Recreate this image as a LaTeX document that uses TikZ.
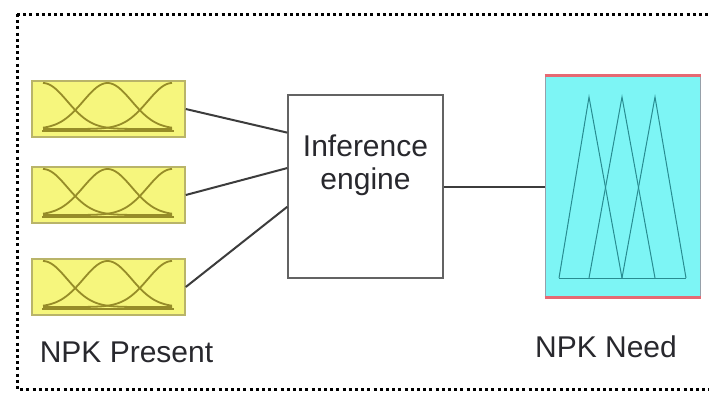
\documentclass[tikz,border=0pt]{standalone}
\usepackage{fontspec}
\setmainfont{Liberation Sans}
\usetikzlibrary{calc}
\definecolor{yfill}{RGB}{246,246,125}
\definecolor{yborder}{RGB}{185,180,105}
\definecolor{ycurve}{RGB}{150,140,40}
\definecolor{cfill}{RGB}{125,245,245}
\definecolor{cborder}{RGB}{150,160,170}
\definecolor{credge}{RGB}{230,105,115}
\definecolor{ctri}{RGB}{40,140,145}
\definecolor{txt}{RGB}{40,40,45}
\definecolor{wire}{RGB}{60,60,60}
\tikzset{
  inbox/.style={draw=yborder, fill=yfill, line width=1.5pt, minimum width=153pt, minimum height=56pt, inner sep=0pt},
  engbox/.style={draw=wire!80, line width=1.5pt, fill=white, minimum width=155pt, minimum height=183pt, inner sep=0pt},
  outbox/.style={draw=cborder, fill=cfill, line width=1pt, minimum width=155pt, minimum height=221pt, inner sep=0pt},
  wirestyle/.style={draw=wire, line width=2pt},
  lbl/.style={text=txt, font=\fontsize{30}{33}\selectfont, inner sep=0pt},
  mf/.style={draw=ycurve, line width=1.8pt},
  tri/.style={draw=ctri, line width=1pt, line join=miter},
}
\begin{document}
\begin{tikzpicture}[x=1pt,y=-1pt]
\useasboundingbox (0,0) rectangle (709,392);
\begin{scope}
\clip (0,0) rectangle (709,392);
\draw[line width=3pt, dash pattern=on 3pt off 3.2pt] (17,14) -- (730,14);
\draw[line width=3pt, dash pattern=on 3pt off 3.2pt] (17,14) -- (17,389) -- (730,389);
\end{scope}
% input membership boxes
\foreach \n/\cy in {in1/109, in2/195, in3/287} {
  \node[inbox] (\n) at (108.5,\cy) {};
  \draw[mf] ($(\n.south west)+(11,-7)$) -- ($(\n.south east)+(-12,-7)$);
  \draw[mf, domain=43:172, samples=60, smooth] plot (\x, {\cy+20-46*exp(-(((\x-43)/34.2)^2))});
  \draw[mf, domain=43:172, samples=60, smooth] plot (\x, {\cy+20-46*exp(-(((\x-107.5)/34.2)^2))});
  \draw[mf, domain=43:172, samples=60, smooth] plot (\x, {\cy+20-46*exp(-(((\x-172)/34.2)^2))});
}
% inference engine
\node[engbox] (eng) at (365.5,186.5) {};
\node[lbl, align=center, anchor=north] (englbl) at (365.5,135) {Inference\\engine};
% output box
\node[outbox] (out) at (622.5,186.5) {};
\draw[credge, line width=3pt] (out.north west) -- (out.north east);
\draw[credge, line width=3pt] (out.south west) -- (out.south east);
\draw[tri] (559,278) -- (686,278);
\draw[tri] (559,278) -- (589,97) -- (622,278);
\draw[tri] (589,278) -- (622,97) -- (655,278);
\draw[tri] (622,278) -- (655,97) -- (686,278);
% connectors
\draw[wirestyle] (in1.east) -- ($(eng.north west)!0.208!(eng.south west)$);
\draw[wirestyle] (in2.east) -- ($(eng.north west)!0.40!(eng.south west)$);
\draw[wirestyle] (in3.east) -- ($(eng.north west)!0.61!(eng.south west)$);
\draw[wirestyle] (eng.east) -- (out.west);
% labels
\node[lbl] (lp) at (126.5,352) {NPK Present};
\node[lbl] (ln) at (606,347) {NPK Need};
\end{tikzpicture}
\end{document}
